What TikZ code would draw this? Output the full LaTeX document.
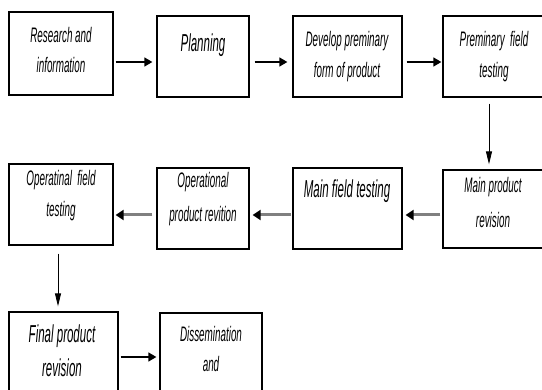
\documentclass[tikz,border=0pt]{standalone}
\usepackage{fontspec}
\newfontfamily\nf[FakeStretch=0.47]{Liberation Sans}
\usetikzlibrary{arrows.meta,fit}
\tikzset{
  box/.style={draw=black, line width=1.3pt, inner sep=0pt},
  txt/.style={align=center, inner sep=0pt, anchor=base, text=black},
  small/.style={font=\nf\itshape\fontsize{21}{31}\selectfont},
  big/.style={font=\nf\itshape\fontsize{24.5}{34}\selectfont},
  blackarr/.style={draw=black, line width=1.5pt, -{Triangle[length=8pt,width=9pt]}},
  grayarr/.style={draw=black!50, line width=3pt, -{Triangle[color=black,length=8pt,width=10pt]}},
  thinarr/.style={draw=black, line width=0.9pt, -{Triangle[length=13pt,width=6pt]}}
}
\begin{document}
\begin{tikzpicture}[x=1pt,y=-1pt]
\useasboundingbox (0,0) rectangle (542,390);
\fill[white] (0,0) rectangle (542,390);
\clip (0,0) rectangle (542,390);
% boxes
\node[box, fit={(9,12) (113,95)}] (b1) {};
\node[box, fit={(157,16) (249,97)}] (b2) {};
\node[box, fit={(293,16) (402,97)}] (b3) {};
\node[box, fit={(443,16) (546,97)}] (b4) {};
\node[box, fit={(443,170) (546,248)}] (b5) {};
\node[box, fit={(293,168) (402,249)}] (b6) {};
\node[box, fit={(157,168) (249,249)}] (b7) {};
\node[box, fit={(9,164) (113,245)}] (b8) {};
\node[box, fit={(9,312) (118,400)}] (b9) {};
\node[box, fit={(160,313) (262,400)}] (b10) {};
% texts (anchor = baseline of the last line)
\node[txt, small, font=\nf\itshape\fontsize{21}{30}\selectfont] (t1) at (61,73) {Research and\\information};
\node[txt, big] (t2) at (203,52) {Planning};
\node[txt, small] (t3) at (347,78) {Develop preminary\\form of product};
\node[txt, small] (t4) at (494,78) {Preminary\ \ field\\testing};
\node[txt, small, font=\nf\itshape\fontsize{21}{35}\selectfont] (t5) at (493,228) {Main product\\revision};
\node[txt, big] (t6) at (347,198) {Main field testing};
\node[txt, small, font=\nf\itshape\fontsize{21}{34}\selectfont] (t7) at (203,222) {Operational\\product revition};
\node[txt, small] (t8) at (61,217) {Operatinal\ \ field\\testing};
\node[txt, big] (t9) at (62,377) {Final product\\revision};
\node[txt, small, font=\nf\itshape\fontsize{21}{30}\selectfont] (t10) at (211,372) {Dissemination\\and};
% row coordinates
\coordinate (r1) at (0,62);
\coordinate (r2) at (0,215);
\coordinate (r3) at (0,357);
\coordinate (c1) at (489,0);
\coordinate (c2) at (58,0);
% arrows
\draw[blackarr, shorten <=2pt, shorten >=4pt] (b1.east |- r1) -- (b2.west |- r1);
\draw[blackarr, shorten <=5pt, shorten >=5pt] (b2.east |- r1) -- (b3.west |- r1);
\draw[blackarr, shorten <=4pt, shorten >=1pt] (b3.east |- r1) -- (b4.west |- r1);
\draw[thinarr, shorten <=6pt, shorten >=5pt] (b4.south -| c1) -- (b5.north -| c1);
\draw[grayarr, shorten <=2pt, shorten >=3pt] (b5.west |- r2) -- (b6.east |- r2);
\draw[grayarr, shorten <=1pt, shorten >=3pt] (b6.west |- r2) -- (b7.east |- r2);
\draw[grayarr, shorten <=4pt, shorten >=2pt] (b7.west |- r2) -- (b8.east |- r2);
\draw[thinarr, shorten <=8pt, shorten >=5pt] (b8.south -| c2) -- (b9.north -| c2);
\draw[blackarr, shorten <=2pt, shorten >=3pt] (b9.east |- r3) -- (b10.west |- r3);
\end{tikzpicture}
\end{document}
